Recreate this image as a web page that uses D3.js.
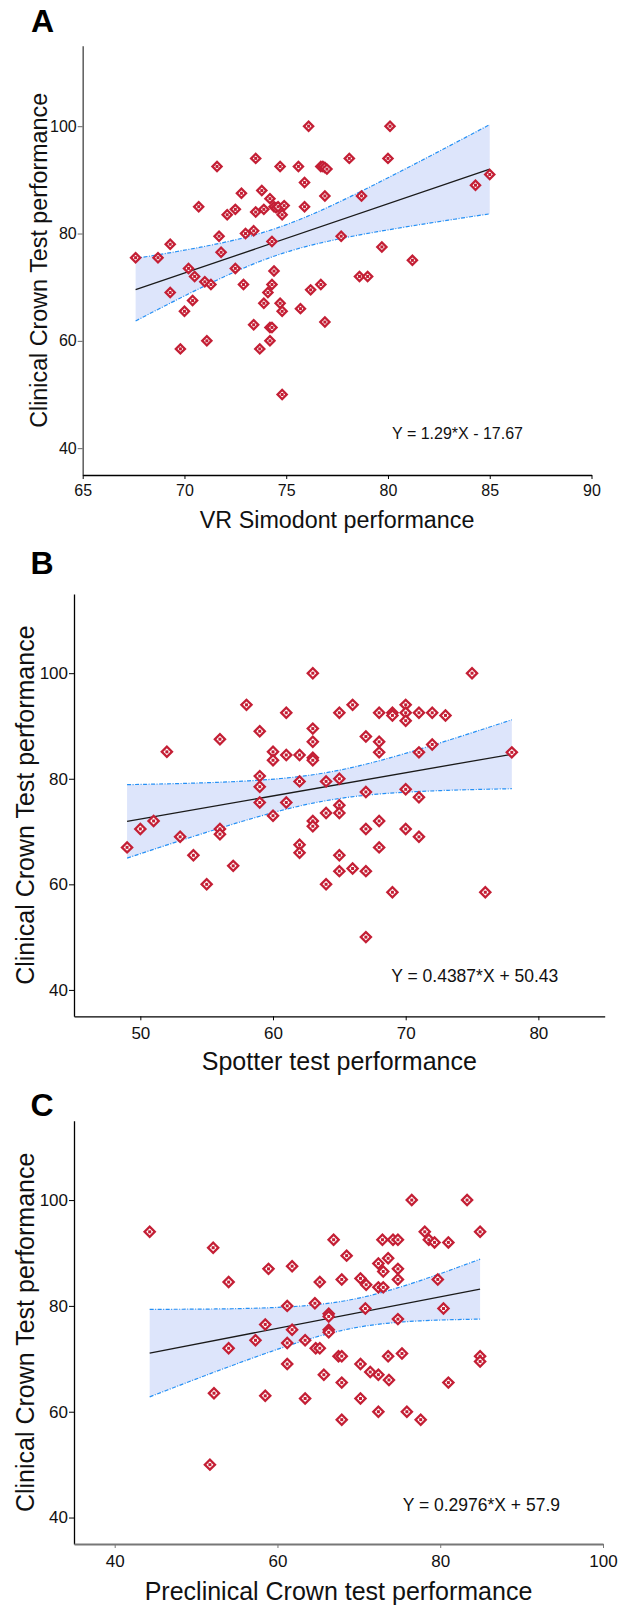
<!DOCTYPE html>
<html>
<head>
<meta charset="utf-8">
<script src="https://cdn.jsdelivr.net/npm/d3@7"></script>
<style>
  body { margin: 0; background: #fff; }
  svg text { font-family: "Liberation Sans", Arial, sans-serif; }
</style>
</head>
<body>
<div id="chart"></div>
<script>
// Clinical Crown Test performance (y) against three predictors (x)

// A. VR Simodont performance
var simodontPoints = [
  [67.6,75.5],[68.7,75.5],[69.3,78.0],[69.3,69.0],[70.2,73.5],[70.5,72.0],[70.0,65.5],[70.4,67.5],
  [69.8,58.5],[70.7,85.0],[71.0,71.0],[71.3,70.5],[71.1,60.0],[71.6,92.5],[71.7,79.5],[71.8,76.5],
  [72.1,83.5],[72.5,84.5],[72.5,73.5],[72.8,87.5],[72.9,70.5],[73.0,80.0],[73.4,80.5],[73.4,63.0],
  [73.5,84.0],[73.5,94.0],[73.8,88.0],[73.7,58.5],[73.9,84.5],[73.9,67.0],[74.1,69.0],[74.2,86.5],
  [74.3,78.5],[74.4,73.0],[74.3,70.5],[74.2,62.5],[74.3,62.5],[74.2,60.0],[74.4,85.0],[74.5,84.8],
  [74.6,85.0],[74.7,92.5],[74.7,67.0],[74.8,65.5],[74.8,83.5],[74.9,85.2],[74.8,50.0],[75.6,92.5],
  [75.9,89.5],[75.9,85.0],[75.7,66.0],[76.1,100.0],[76.2,69.5],[76.7,70.5],[76.7,92.5],[76.8,92.5],
  [76.9,92.3],[77.0,92.0],[76.9,87.0],[76.9,63.5],[77.7,79.5],[78.1,94.0],[78.6,72.0],[78.7,87.0],
  [79.0,72.0],[79.7,77.5],[80.0,94.0],[80.1,100.0],[81.2,75.0],[84.3,89.0],[85.0,91.0]
];

// B. Spotter test performance
var spotterPoints = [
  [49,67],[50,70.5],[51,72],[52,85.1],[53,69],[54,65.5],[55,60],[56,87.5],[56,70.5],[56,69.5],
  [57,63.5],[58,94],[59,89],[59,80.5],[59,78.5],[59,75.5],[60,85.1],[60,83.5],[60,73],[61,92.5],
  [61,84.5],[61,75.5],[62,84.5],[62,79.5],[62,67.5],[62,66],[63,100],[63,89.5],[63,87],[63,84],
  [63,83.5],[63,72],[63,71],[64,79.5],[64,73.5],[64,60],[65,92.5],[65,80],[65,75],[65,73.5],
  [65,65.5],[65,62.5],[66,94],[66,63],[67,88],[67,77.5],[67,70.5],[67,62.5],[67,50],[68,92.5],
  [68,87],[68,85],[68,72],[68,67],[69,92.5],[69,92],[69,58.5],[70,94],[70,92.5],[70,91],
  [70,78],[70,70.5],[71,92.5],[71,85],[71,76.5],[71,69],[72,92.5],[72,86.5],[73,92],[75,100],
  [76,58.5],[78,85]
];

// C. Preclinical Crown test performance
var preclinicalPoints = [
  [44.3,94],[52.1,91],[52.2,63.5],[51.7,50],[54,84.5],[54,72],[57.3,73.5],[58.5,76.5],[58.5,63],
  [58.9,87],[61.2,80],[61.2,73],[61.2,69],[61.8,87.5],[61.8,75.5],[63.4,73.5],[63.4,62.5],[64.6,80.5],
  [64.7,72],[65.2,84.5],[65.2,72],[65.7,67],[66.3,78.5],[66.3,78],[66.3,75.5],[66.3,75],[66.9,92.5],
  [67.5,70.5],[67.9,70.5],[67.9,85],[67.9,65.5],[67.9,58.5],[68.5,89.5],[70.2,85.2],[70.2,69],
  [70.2,62.5],[70.8,79.5],[70.9,84],[71.4,67.5],[72.4,88],[72.4,83.5],[72.4,67],[72.4,60],[72.9,92.5],
  [73,86.5],[73,83.5],[73.6,89],[73.6,70.5],[73.7,66],[74.2,92.5],[74.8,92.5],[74.8,87],[74.8,85],
  [74.8,77.5],[75.3,71],[75.9,60],[76.5,100],[77.6,58.5],[78.1,94],[78.6,92.5],[79.3,92],[79.7,85],
  [80.4,79.5],[81,92],[81,65.5],[83.3,100],[84.9,94],[84.9,70.5],[84.9,69.5]
];

// regression lines printed on the figure
var slopes = [1.29, 0.4387, 0.2976];
var intercepts = [-17.67, 50.43, 57.9];
var equations = ["Y = 1.29*X - 17.67", "Y = 0.4387*X + 50.43", "Y = 0.2976*X + 57.9"];

// axes
var xTicksA = [65, 70, 75, 80, 85, 90];
var xTicksB = [50, 60, 70, 80];
var xTicksC = [40, 60, 80, 100];
var yTicks = [40, 60, 80, 100];
var yTitle = "Clinical Crown Test performance";
var xTitles = ["VR Simodont performance", "Spotter test performance", "Preclinical Crown test performance"];
var panelLabels = ["A", "B", "C"];

var tCrit = 1.99;  // 95% two-sided, df ~ 70

var red = "#c41f35";

var panels = [
  { pts: simodontPoints, xDomain: [65, 90], xTicks: xTicksA,
    left: 82.7, right: 591.5, top: 45.7, bottom: 475,
    yAxisColor: "#666", yAxisWidth: 1.6, xAxisColor: "#000", xAxisWidth: 1.3,
    tickFont: 16, titleFont: 23.3, eqFont: 16, eqX: 523, eqY: 439,
    xTitleY: 528.3, yTitleX: 46.6, labelX: 31, labelY: 32.3, marker: 4.6 },
  { pts: spotterPoints, xDomain: [45, 85], xTicks: xTicksB,
    left: 74, right: 604.7, top: 594, bottom: 1016.3,
    yAxisColor: "#000", yAxisWidth: 1.3, xAxisColor: "#000", xAxisWidth: 1.3,
    tickFont: 17, titleFont: 25, eqFont: 17.5, eqX: 558.3, eqY: 982.3,
    xTitleY: 1070, yTitleX: 34.3, labelX: 30.5, labelY: 574.3, marker: 5.1 },
  { pts: preclinicalPoints, xDomain: [35, 100], xTicks: xTicksC,
    left: 74, right: 603, top: 1120.7, bottom: 1544,
    yAxisColor: "#000", yAxisWidth: 1.3, xAxisColor: "#777", xAxisWidth: 2,
    tickFont: 17, titleFont: 25, eqFont: 17.5, eqX: 560, eqY: 1510.7,
    xTitleY: 1600, yTitleX: 34.3, labelX: 30.5, labelY: 1116.3, marker: 5.1 }
];

var svg = d3.select("#chart").append("svg")
    .attr("width", 621)
    .attr("height", 1607);

function drawPanel(p, i) {
  var x = d3.scaleLinear().domain(p.xDomain).range([p.left, p.right]);
  var y = d3.scaleLinear().domain([35, 115]).range([p.bottom, p.top]);
  var g = svg.append("g");

  var fit = function(v) { return slopes[i] * v + intercepts[i]; };

  // confidence band of the fitted line
  var xs = p.pts.map(function(d) { return d[0]; });
  var n = xs.length, mx = d3.mean(xs);
  var sxx = d3.sum(xs, function(v) { return (v - mx) * (v - mx); });
  var s = Math.sqrt(d3.sum(p.pts, function(d) { return Math.pow(d[1] - fit(d[0]), 2); }) / (n - 2));
  var ext = d3.extent(xs);
  var band = d3.range(0, 61).map(function(k) {
    var v = ext[0] + (ext[1] - ext[0]) * k / 60;
    var h = tCrit * s * Math.sqrt(1 / n + (v - mx) * (v - mx) / sxx);
    return { x: v, lo: fit(v) - h, hi: fit(v) + h };
  });

  g.append("path")
    .datum(band)
    .attr("fill", "#dde5fb")
    .attr("d", d3.area()
      .x(function(d) { return x(d.x); })
      .y0(function(d) { return y(d.lo); })
      .y1(function(d) { return y(d.hi); }));

  ["lo", "hi"].forEach(function(k) {
    g.append("path")
      .datum(band)
      .attr("fill", "none")
      .attr("stroke", "#2590f5")
      .attr("stroke-width", 1.2)
      .attr("stroke-dasharray", "4,1.5,1,1.5")
      .attr("d", d3.line()
        .x(function(d) { return x(d.x); })
        .y(function(d) { return y(d[k]); }));
  });

  // regression line
  g.append("line")
    .attr("x1", x(ext[0])).attr("y1", y(fit(ext[0])))
    .attr("x2", x(ext[1])).attr("y2", y(fit(ext[1])))
    .attr("stroke", "#1a1a1a")
    .attr("stroke-width", 1.3);

  // axes
  var yAxis = g.append("g")
    .attr("transform", "translate(" + p.left + ",0)")
    .call(d3.axisLeft(y).tickValues(yTicks).tickSize(5).tickSizeOuter(0).tickPadding(1));
  var xAxis = g.append("g")
    .attr("transform", "translate(0," + p.bottom + ")")
    .call(d3.axisBottom(x).tickValues(p.xTicks).tickSize(4).tickSizeOuter(0).tickPadding(p.tickFont > 16 ? 7 : 6));

  yAxis.select(".domain").attr("stroke", p.yAxisColor).attr("stroke-width", p.yAxisWidth);
  yAxis.selectAll(".tick line").attr("stroke", p.yAxisColor);
  xAxis.select(".domain").attr("stroke", p.xAxisColor).attr("stroke-width", p.xAxisWidth);
  xAxis.selectAll(".tick line").attr("stroke", p.xAxisColor);
  [xAxis, yAxis].forEach(function(a) {
    a.attr("font-family", "Liberation Sans, Arial, sans-serif")
     .attr("font-size", p.tickFont);
    a.selectAll(".tick text").attr("fill", "#111");
  });

  // points: diamond outline with a small centre square
  var pts = g.selectAll(".pt")
    .data(p.pts)
    .enter().append("g")
      .attr("class", "pt")
      .attr("transform", function(d) { return "translate(" + x(d[0]) + "," + y(d[1]) + ")"; });
  pts.append("rect")
    .attr("x", -p.marker / Math.SQRT2).attr("y", -p.marker / Math.SQRT2)
    .attr("width", p.marker * Math.SQRT2).attr("height", p.marker * Math.SQRT2)
    .attr("transform", "rotate(45)")
    .attr("fill", "#fff")
    .attr("stroke", red)
    .attr("stroke-width", 2.3);
  pts.append("rect")
    .attr("x", -1.5).attr("y", -1.5)
    .attr("width", 3).attr("height", 3)
    .attr("fill", red);

  // texts
  g.append("text")
    .attr("x", p.eqX).attr("y", p.eqY)
    .attr("text-anchor", "end")
    .attr("font-size", p.eqFont)
    .attr("fill", "#111")
    .text(equations[i]);

  g.append("text")
    .attr("x", (p.left + p.right) / 2).attr("y", p.xTitleY)
    .attr("text-anchor", "middle")
    .attr("font-size", p.titleFont)
    .attr("fill", "#111")
    .text(xTitles[i]);

  g.append("text")
    .attr("transform", "translate(" + p.yTitleX + "," + (p.top + p.bottom) / 2 + ") rotate(-90)")
    .attr("text-anchor", "middle")
    .attr("font-size", p.titleFont)
    .attr("fill", "#111")
    .text(yTitle);

  g.append("text")
    .attr("x", p.labelX).attr("y", p.labelY)
    .attr("font-size", 32)
    .attr("font-weight", "bold")
    .attr("fill", "#000")
    .text(panelLabels[i]);
}

panels.forEach(drawPanel);
</script>
</body>
</html>
